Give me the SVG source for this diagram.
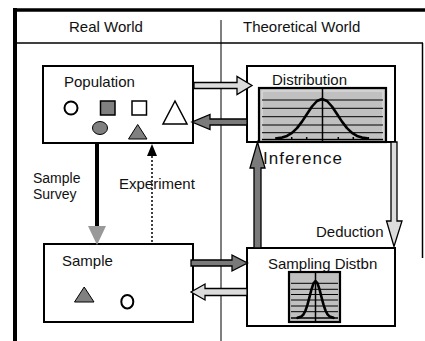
<svg xmlns="http://www.w3.org/2000/svg" width="425" height="341" viewBox="0 0 425 341">
<style>
text{font-family:"Liberation Sans",Arial,sans-serif;font-size:15px;fill:#111}
.box{fill:#fff;stroke:#000;stroke-width:2}
.dark{fill:#7a7a7a;stroke:#000;stroke-width:1.3;stroke-linejoin:miter}
.light{fill:#dcdcdc;stroke:#000;stroke-width:1.3;stroke-linejoin:miter}
.grid{stroke:#000;stroke-width:1}
.curve{fill:none;stroke:#000;stroke-width:2.6;stroke-linejoin:round;stroke-linecap:round}
.chart{fill:#c0c0c0;stroke:#000;stroke-width:2.2}
</style>
<rect width="425" height="341" fill="#fff"/>
<g id="frame">
<line x1="13" y1="10" x2="425" y2="10" stroke="#000" stroke-width="3.5"/>
<line x1="15" y1="8" x2="15" y2="341" stroke="#000" stroke-width="4"/>
<line x1="17" y1="43" x2="423" y2="43" stroke="#000" stroke-width="1.5"/>
<line x1="422.5" y1="43" x2="422.5" y2="258" stroke="#000" stroke-width="1.5"/>
<line x1="221" y1="20" x2="221" y2="341" stroke="#000" stroke-width="1"/>
<text x="69" y="32">Real World</text>
<text x="243" y="32">Theoretical World</text>
</g>
<g id="population">
<rect class="box" x="43" y="66" width="150" height="77"/>
<text x="64" y="87">Population</text>
<circle cx="71" cy="108" r="6.5" fill="#fff" stroke="#000" stroke-width="2"/>
<rect x="100.5" y="101" width="14.5" height="14" fill="#808080" stroke="#000" stroke-width="1.5"/>
<rect x="132" y="101" width="14.5" height="14" fill="#fff" stroke="#000" stroke-width="1.5"/>
<polygon points="163,124 187,124 175,101" fill="#fff" stroke="#000" stroke-width="1.5"/>
<ellipse cx="100" cy="128" rx="7.5" ry="6.5" fill="#808080" stroke="#000" stroke-width="1"/>
<polygon points="128.5,139 147,139 137.7,124.5" fill="#808080" stroke="#000" stroke-width="1"/>
</g>
<g id="sample">
<rect class="box" x="44" y="244" width="149" height="78"/>
<text x="62" y="266">Sample</text>
<polygon points="74.5,302 94,302 84.2,287" fill="#808080" stroke="#000" stroke-width="1"/>
<ellipse cx="127.3" cy="301.7" rx="6" ry="6.8" fill="#fff" stroke="#000" stroke-width="2"/>
</g>
<g id="distribution">
<rect class="box" x="247" y="66" width="148" height="76"/>
<text x="272" y="85">Distribution</text>
<rect class="chart" x="259" y="88" width="127" height="54"/>
<rect x="262" y="91" width="121" height="48" fill="none" stroke="#e4e4e4" stroke-width="1"/>
<g class="grid">
<line x1="262" y1="100" x2="383" y2="100"/>
<line x1="262" y1="108.3" x2="383" y2="108.3"/>
<line x1="262" y1="116.7" x2="383" y2="116.7"/>
<line x1="262" y1="125" x2="383" y2="125"/>
<line x1="262" y1="132.7" x2="383" y2="132.7"/>
<line x1="262" y1="139.5" x2="383" y2="139.5" stroke-width="1.5"/>
<line x1="322.5" y1="88" x2="322.5" y2="142" stroke-width="1.5"/>
<path d="M276,137v3M291.7,137v3M306.7,137v3M338.3,137v3M353.3,137v3M368.3,137v3" stroke-width="1.5"/>
</g>
<path class="curve" d="M277,138.4 L282,137.6 L287,135.9 L292,132.9 L297,128.1 L302,121.6 L307,114 L312,106.5 L317,101 L322,99 L327,101 L332,106.5 L337,114 L342,121.6 L347,128.1 L352,132.9 L357,135.9 L362,137.6 L367,138.4"/>
</g>
<g id="sampling-distbn">
<rect class="box" x="247" y="248" width="148" height="78"/>
<text x="268" y="269">Sampling Distbn</text>
<rect class="chart" x="289" y="272" width="51" height="50" stroke-width="2.6"/>
<g class="grid">
<line x1="291" y1="283.3" x2="338" y2="283.3"/>
<line x1="291" y1="289.3" x2="338" y2="289.3"/>
<line x1="291" y1="294.5" x2="338" y2="294.5"/>
<line x1="291" y1="300" x2="338" y2="300"/>
<line x1="291" y1="306" x2="338" y2="306"/>
<line x1="291" y1="311.7" x2="338" y2="311.7"/>
<line x1="291" y1="318" x2="338" y2="318" stroke-width="1.5"/>
<line x1="315.5" y1="272" x2="315.5" y2="322" stroke-width="1.5"/>
</g>
<path class="curve" d="M297.5,317.8 L301.5,316.4 L303.5,314.3 L305.5,310.5 L307.5,304.7 L309.5,297.2 L311.5,289.3 L313.5,283.3 L315.5,281 L317.5,283.3 L319.5,289.3 L321.5,297.2 L323.5,304.7 L325.5,310.5 L327.5,314.3 L329.5,316.4 L333.5,317.8"/>
</g>
<g id="connectors">
<polygon class="light" points="194,82.5 237,82.5 237,76.5 252,85.5 237,94.5 237,88.5 194,88.5"/>
<polygon class="dark" points="247,119 210,119 210,114.5 192,122 210,129.5 210,125 247,125"/>
<polygon class="dark" points="254,248 254,168 250,168 257.5,142 265,168 261,168 261,248"/>
<polygon class="light" points="391,142 397,142 397,221 402,221 394,246.5 386.5,221 391,221"/>
<polygon class="dark" points="191,260 232,260 232,255 247.5,263 232,271 232,266 191,266"/>
<polygon class="light" points="247,288.5 205,288.5 205,284 191,292 205,300 205,295.5 247,295.5"/>
<line x1="97" y1="143" x2="97" y2="228" stroke="#000" stroke-width="4"/>
<polygon points="88,226 106,226 97,245" fill="#999"/>
<line x1="152" y1="156" x2="152" y2="243" stroke="#000" stroke-width="1.5" stroke-dasharray="2,2"/>
<polygon points="147,156 157,156 152,144" fill="#000"/>
<text x="33" y="183" style="font-size:14px">Sample</text>
<text x="33" y="199" style="font-size:14px">Survey</text>
<text x="119" y="189">Experiment</text>
<text x="263" y="164" style="font-size:17px;letter-spacing:1px">Inference</text>
<text x="316" y="237">Deduction</text>
</g>
</svg>
